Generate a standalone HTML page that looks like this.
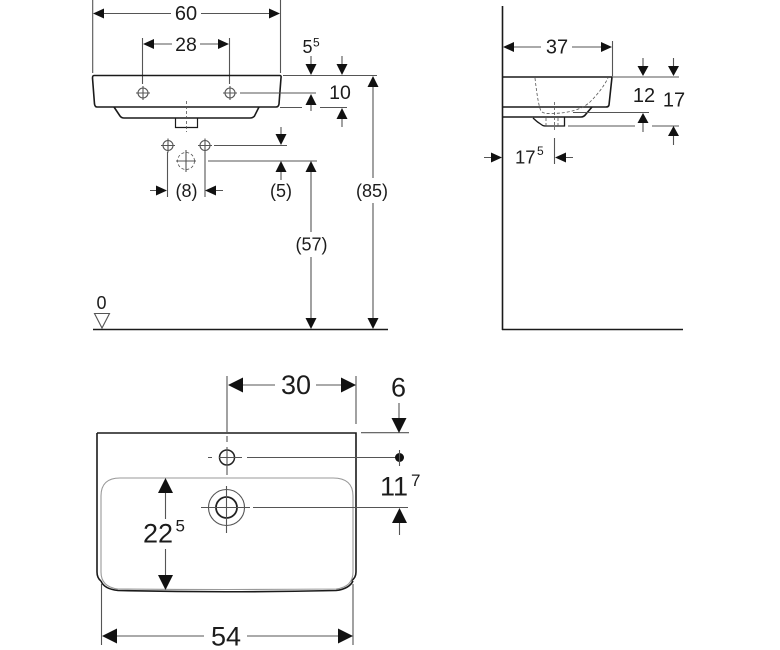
<!DOCTYPE html>
<html><head><meta charset="utf-8"><style>
html,body{margin:0;padding:0;background:#fff}
svg{display:block}
text{font-family:"Liberation Sans",sans-serif;fill:#1c1c1c}
.k{stroke:#1a1a1a;fill:none;stroke-width:1.6}
.g{stroke:#555;fill:none;stroke-width:1.1}
.gl{stroke:#999;fill:none;stroke-width:1.1}
.d{stroke:#555;fill:none;stroke-width:.8;stroke-dasharray:3 2}
.a{fill:#111;stroke:none}
</style></head><body>
<svg width="780" height="650" viewBox="0 0 780 650" xmlns="http://www.w3.org/2000/svg">
<defs>
<g id="t"><circle r="5" class="g"/><path d="M-7 0H7M0-7V7" class="g"/></g>
</defs>

<!-- FRONT VIEW -->
<path class="g" d="M92.7 0V73M280.5 0V73M142.5 38V84M229.5 38V84"/>
<path class="g" d="M100 13.5H171M201 13.5H272M150 44H172M200 44H222"/>
<path class="a" d="M93 13.5l11-5v10zM280 13.5l-11-5v10zM143 44l11-5v10zM229 44l-11-5v10z"/>
<text x="186" y="20" font-size="20" text-anchor="middle">60</text>
<text x="186" y="51" font-size="19.500" text-anchor="middle">28</text>

<path class="k" d="M94 75.5H280Q281.500 75.500 281 78L279 104Q278.500 107 276 107H97Q95 107 94.500 104L92.500 78Q92.500 75.500 94 75.500Z"/>
<path class="k" d="M114 107L120 116Q121.500 118 124 118H250Q253 118 254.500 116L259 107"/>
<path class="k" style="stroke-width:1.200" d="M175.500 118V127.500H197.500V118"/>
<path class="d" d="M186.500 101V132"/>
<use href="#t" x="143" y="93"/><use href="#t" x="230" y="93"/>
<use href="#t" x="168" y="145.500"/><use href="#t" x="205" y="145.500"/>
<circle cx="186" cy="161" r="8.500" class="d"/>
<path class="g" d="M176 161H196M186 150V172"/>

<path class="g" d="M283 75.500H377M240 93H316M280 107.500H302M320 107.500H347M214 145.500H287M208 161H317"/>
<path class="g" d="M311 56V68M311 100V111M342 56V68M342 117V127M281 127V138M281 170V180"/>
<path class="a" d="M311 75l-5.500-11h11zM342 75l-5.500-11h11zM311 94l-5.500 11h11zM342 108l-5.500 11h11zM281 145l-5.500-11h11zM281 161l-5.500 11h11zM311 161l-5.500 11h11zM373 76l-5.500 11h11z"/>
<text x="302.500" y="53" font-size="18">5</text><text x="313" y="46.500" font-size="12">5</text>
<text x="340" y="99" font-size="19.500" text-anchor="middle">10</text>

<path class="g" d="M167.500 152V197M205 152V197M150 190.500H160M213 190.500H223"/>
<path class="a" d="M167 190.500l-11-5v10zM205 190.500l11-5v10z"/>
<text x="186.500" y="197" font-size="18" text-anchor="middle">(8)</text>
<text x="281" y="197" font-size="18" text-anchor="middle">(5)</text>
<path class="g" d="M311 172V232M311 257V318M373 87V178M373 203V318"/>
<text x="311.500" y="250.500" font-size="18" text-anchor="middle">(57)</text>
<text x="372" y="197" font-size="18" text-anchor="middle">(85)</text>
<path class="a" d="M311 329l-5.500-11h11zM373 329l-5.500-11h11z"/>
<text x="101.500" y="309" font-size="18" text-anchor="middle">0</text>
<path d="M94.500 313.500H109.500L102 328Z" class="g"/>
<path class="k" d="M93 329.500H388"/>

<!-- SIDE VIEW -->
<path class="k" d="M502.500 6V330M502 329.500H683"/>
<path class="g" d="M612.500 41V76M613 77H679"/>
<path class="g" d="M510 47H541M572 47H604"/>
<path class="a" d="M503 47l11-5v10zM612 47l-11-5v10z"/>
<text x="557" y="53.500" font-size="20" text-anchor="middle">37</text>
<path class="k" d="M502 77H612L609 105Q608.500 107 606 107H502"/>
<path class="k" d="M502 117H581Q584 117 586 114L592 107"/>
<path class="k" style="stroke-width:1.300" d="M533 118Q537 122 542 125Q543 126 546 126H564.500V117"/>
<path class="d" d="M535 78Q538 105 541 111Q543 114 552 113.500Q578 113 590 102Q602 90 608 78M546 118V126M558 118V126"/>
<path class="d" d="M554.500 102V132"/>
<path class="g" d="M573 112.500H649M568 126H635M652 126H679M554.500 138V164"/>
<path class="g" d="M643 58V66M643 118V132M673.500 58V66M673.500 136V145"/>
<path class="a" d="M643 76l-5.500-10h11zM673.500 76l-5.500-10h11zM643 113l-5.500 10h11zM673.500 126l-5.500 10h11z"/>
<text x="644" y="102" font-size="20" text-anchor="middle">12</text>
<text x="674" y="106.500" font-size="20" text-anchor="middle">17</text>
<path class="g" d="M484 157.500H492M564 157.500H573"/>
<path class="a" d="M502 157.500l-11-5v10zM555 157.500l11-5v10z"/>
<text x="515" y="163.500" font-size="18.500">17</text><text x="537" y="155" font-size="12">5</text>

<!-- TOP VIEW -->
<path class="g" d="M227 376V432M356 376V424"/>
<path class="g" d="M240 385H275M316 385H345"/>
<path class="a" d="M228 385l15-7.500v15zM356 385l-15-7.500v15z"/>
<text x="296" y="394" font-size="27" text-anchor="middle">30</text>
<text x="398.500" y="396.500" font-size="27" text-anchor="middle">6</text>
<path class="g" d="M399 403V420M361 432.700H409"/>
<path class="a" d="M399 433l-7.500-15h15z"/>

<path class="k" d="M97 433H356V572Q356 578 351 581M97 433V572Q97 578 101 581"/>
<path class="k" d="M101 581Q104 589 118 590.500Q226 593 336 590.500Q349 589 353 581"/>
<path class="gl" d="M120 478H333Q353 478 353 496V572Q353 587 336 589Q226 590 118 589Q101 587 101 572V496Q101 478 120 478Z"/>

<circle cx="227" cy="457.500" r="7.500" fill="none" stroke="#222" stroke-width="1.500"/>
<path class="g" d="M227 436V442M227 447V475M208 457.500H212M219 457.500H242M247 457.500H399"/>
<circle cx="399.500" cy="457.500" r="4.500" fill="#111"/>
<path class="g" d="M399.500 450V466"/>
<text x="380" y="495.500" font-size="27">11</text><text x="411" y="486" font-size="17">7</text>

<circle cx="226.500" cy="507.500" r="18" class="g"/>
<circle cx="226.500" cy="507.500" r="10.500" fill="none" stroke="#222" stroke-width="1.800"/>
<path class="g" d="M226.500 486V533M201 507.500H250M253 507.500H408"/>
<path class="g" d="M399.500 535V518"/>
<path class="a" d="M399.500 508l-7.500 15h15z"/>

<path class="g" d="M165.500 490V519M165.500 549V575"/>
<path class="a" d="M165.500 478l-7.500 15h15zM165.500 590l-7.500-15h15z"/>
<text x="143" y="542.500" font-size="27">22</text><text x="175.500" y="531.500" font-size="17">5</text>

<path class="g" d="M101.500 584V645M353 584V645"/>
<path class="g" d="M115 636H204M247 636H340"/>
<path class="a" d="M102 636l15-7.500v15zM353 636l-15-7.500v15z"/>
<text x="226" y="645.500" font-size="27" text-anchor="middle">54</text>
</svg>
</body></html>
